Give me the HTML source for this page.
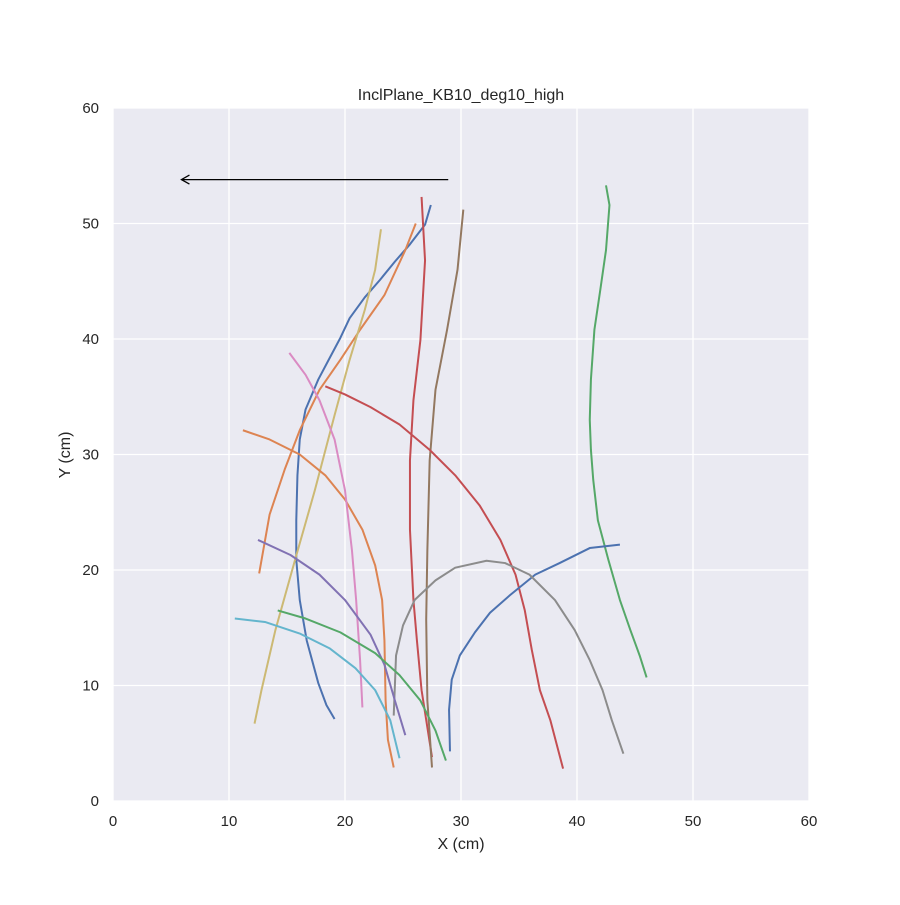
<!DOCTYPE html>
<html><head><meta charset="utf-8"><style>
body{margin:0;background:#fff;}
svg text{font-family:"Liberation Sans","DejaVu Sans",sans-serif;fill:#262626;}
</style></head><body>
<svg id="chart" width="900" height="900" xmlns="http://www.w3.org/2000/svg">
<rect x="113" y="108" width="696" height="693" fill="#eaeaf2"/>
<g id="grid"></g><g id="lines"></g><g id="ticks"></g>
<text x="461" y="100" font-size="16" text-anchor="middle">InclPlane_KB10_deg10_high</text>
<text x="461" y="849" font-size="16" text-anchor="middle">X (cm)</text>
<text x="70" y="455" font-size="16" text-anchor="middle" transform="rotate(-90 70 455)">Y (cm)</text>
</svg>
<script>
const xTicks=[0,10,20,30,40,50,60];
const yTicks=[0,10,20,30,40,50,60];
const colors=["#4c72b0","#dd8452","#ccb974","#c44e52","#937860","#55a868","#c44e52","#4c72b0","#8c8c8c","#dd8452","#da8bc3","#8172b3","#55a868","#64b5cd"];
const t1=[[27.4,51.6],[26.9,49.9],[25.6,48.2],[24.3,46.7],[23.0,45.1],[21.7,43.6],[20.4,41.8],[19.6,40.1],[18.7,38.4],[17.7,36.5],[16.6,33.9],[16.1,31.3],[15.9,28.2],[15.8,24.3],[15.8,20.9],[16.1,17.4],[16.7,13.9],[17.7,10.2],[18.4,8.3],[19.1,7.1]];
const t2=[[26.1,50.0],[25.2,47.7],[23.4,43.8],[21.3,40.8],[19.6,38.2],[17.8,35.6],[16.1,32.1],[14.8,28.7],[13.5,24.8],[12.6,19.7]];
const t3=[[23.1,49.5],[22.6,46.0],[21.7,42.5],[20.4,38.2],[19.1,33.4],[17.4,26.9],[15.7,20.9],[14.0,14.8],[12.8,9.6],[12.2,6.7]];
const t4=[[26.6,52.3],[26.9,46.8],[26.5,39.9],[25.9,34.7],[25.6,29.5],[25.6,23.5],[25.9,17.4],[26.2,13.9],[26.6,9.6],[27.5,3.8]];
const t5=[[30.2,51.2],[29.7,46.0],[28.8,40.8],[27.8,35.6],[27.3,29.5],[27.1,21.7],[27.0,15.7],[27.1,8.7],[27.5,2.9]];
const t6=[[42.5,53.3],[42.8,51.6],[42.5,47.7],[42.0,44.2],[41.5,40.8],[41.2,36.5],[41.1,33.0],[41.2,30.4],[41.4,27.8],[41.8,24.3],[42.7,20.9],[43.7,17.4],[44.6,14.8],[45.4,12.6],[46.0,10.7]];
const t7=[[18.3,35.9],[20.0,35.2],[22.2,34.1],[24.7,32.6],[27.3,30.4],[29.5,28.2],[31.6,25.6],[33.4,22.6],[34.7,19.6],[35.5,16.5],[36.1,13.1],[36.8,9.6],[37.7,7.0],[38.8,2.8]];
const t8=[[43.7,22.2],[41.1,21.9],[38.5,20.6],[36.4,19.6],[34.2,17.8],[32.5,16.3],[31.2,14.6],[29.9,12.6],[29.2,10.5],[28.97,7.9],[29.05,4.3]];
const t9=[[44.0,4.1],[43.0,7.0],[42.2,9.6],[41.1,12.2],[39.8,14.8],[38.1,17.4],[35.9,19.6],[33.8,20.6],[32.2,20.8],[29.5,20.2],[27.8,19.1],[26.0,17.4],[25.0,15.2],[24.4,12.6],[24.2,7.4]];
const t10=[[11.2,32.1],[13.5,31.3],[16.1,30.0],[18.3,28.2],[20.0,26.1],[21.5,23.5],[22.6,20.4],[23.2,17.4],[23.4,13.9],[23.5,8.7],[23.7,5.3],[24.2,2.9]];
const t11=[[15.2,38.8],[16.6,36.9],[17.8,34.7],[19.1,31.3],[20.0,26.9],[20.6,21.7],[20.96,17.4],[21.3,12.2],[21.5,8.1]];
const t12=[[12.5,22.6],[15.3,21.3],[17.8,19.6],[20.0,17.4],[22.2,14.4],[23.4,11.8],[24.3,8.7],[25.2,5.7]];
const t13=[[14.2,16.5],[16.6,15.8],[19.6,14.6],[22.6,12.8],[24.7,10.9],[26.5,8.7],[27.8,6.1],[28.7,3.5]];
const t14=[[10.5,15.8],[13.1,15.5],[16.1,14.5],[18.7,13.2],[20.9,11.5],[22.6,9.6],[23.9,7.0],[24.7,3.7]];
const tracks=[t1,t2,t3,t4,t5,t6,t7,t8,t9,t10,t11,t12,t13,t14];
const arrowFrom=[28.9,53.8], arrowTo=[5.9,53.8];
const NS="http://www.w3.org/2000/svg";
const sx=v=>113+v*696/60, sy=v=>801-v*693/60;
function mk(tag,attrs,parent){const e=document.createElementNS(NS,tag);for(const k in attrs)e.setAttribute(k,attrs[k]);parent.appendChild(e);return e;}
const grid=document.getElementById('grid'),ticks=document.getElementById('ticks'),lines=document.getElementById('lines');
xTicks.forEach(v=>{const l=mk('line',{x1:sx(v),x2:sx(v),y1:108,y2:801,stroke:'#fff','stroke-width':1.3},grid);


const t=mk('text',{x:sx(v),y:826,'font-size':15,'text-anchor':'middle'},ticks);t.textContent=v;

});
yTicks.forEach(v=>{const l=mk('line',{x1:113,x2:809,y1:sy(v),y2:sy(v),stroke:'#fff','stroke-width':1.3},grid);


const t=mk('text',{x:99,y:sy(v)+5,'font-size':15,'text-anchor':'end'},ticks);t.textContent=v;

});
tracks.forEach((tr,i)=>{const p=mk('polyline',{points:tr.map(d=>sx(d[0])+','+sy(d[1])).join(' '),fill:'none',stroke:colors[i],'stroke-width':2,'stroke-linejoin':'round'},lines);

});
const ax=sx(arrowTo[0]),ay=sy(arrowTo[1]);
const a=mk('g',{},lines);


mk('line',{x1:sx(arrowFrom[0]),y1:sy(arrowFrom[1]),x2:ax,y2:ay,stroke:'#000','stroke-width':1.3},a);
mk('polyline',{points:`${ax+8},${ay-4.5} ${ax},${ay} ${ax+8},${ay+4.5}`,fill:'none',stroke:'#000','stroke-width':1.3},a);
</script>
</body></html>
